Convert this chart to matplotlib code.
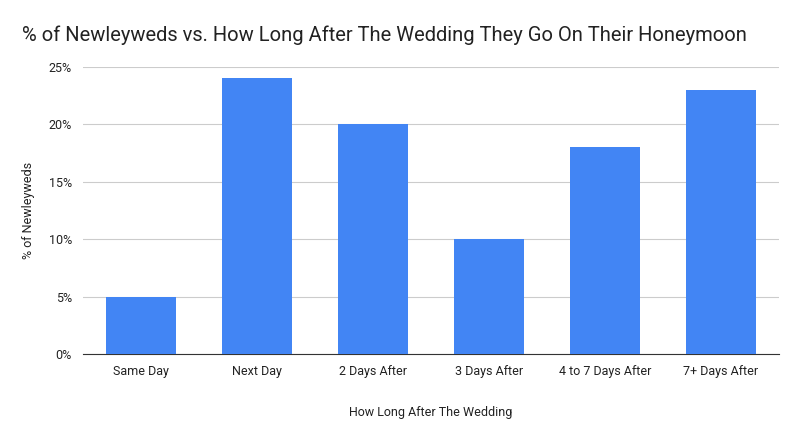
import matplotlib
matplotlib.use("Agg")
import matplotlib.pyplot as plt
from matplotlib.ticker import FuncFormatter

categories = ["Same Day", "Next Day", "2 Days After", "3 Days After", "4 to 7 Days After", "7+ Days After"]
values = [5, 24, 20, 10, 18, 23]
yticks = [0, 5, 10, 15, 20, 25]

plt.rcParams['font.family'] = ['Roboto', 'DejaVu Sans']
fig = plt.figure(figsize=(8.01, 4.30), dpi=100)
ax = fig.add_axes([83/801, 1-354/430, (779-83)/801, (354-67)/430])
x = range(len(categories))
ax.bar(x, values, width=0.6, color="#4285f4", zorder=3)
ax.set_xlim(-0.5, len(categories)-0.5)
ax.set_ylim(0, 25)
ax.set_yticks(yticks)
ax.yaxis.set_major_formatter(FuncFormatter(lambda v, p: f"{int(v)}%"))
ax.set_xticks(list(x))
ax.set_xticklabels(categories)
ax.grid(axis="y", color="#cccccc", linewidth=0.8, zorder=0)
for s in ["top", "right", "left"]:
    ax.spines[s].set_visible(False)
ax.spines["bottom"].set_color("#333333")
ax.tick_params(axis="both", length=0, labelsize=9, colors="#222222", pad=8)
ax.set_xlabel("How Long After The Wedding", fontsize=9, color="#222222", labelpad=20)
ax.set_ylabel("% of Newleyweds", fontsize=9, color="#222222", labelpad=10)
fig.text(22/801, 1-35/430, "% of Newleyweds vs. How Long After The Wedding They Go On Their Honeymoon",
         fontsize=14.5, color="#222222", va="center", ha="left")
fig.savefig("out.png", dpi=100)
